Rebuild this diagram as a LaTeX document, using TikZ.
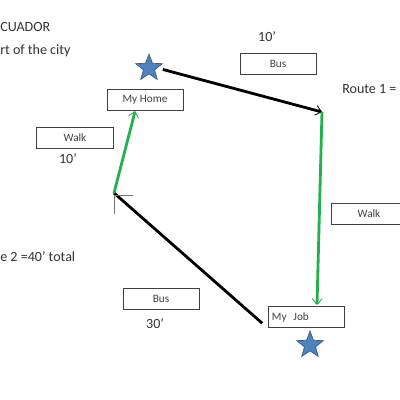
\documentclass[tikz,border=0pt]{standalone}
\usepackage{fontspec}
\setmainfont{Carlito}
\usetikzlibrary{shapes.geometric, arrows.meta}
\definecolor{starblue}{RGB}{79,129,189}
\definecolor{starline}{RGB}{56,93,138}
\definecolor{walkgreen}{RGB}{34,177,76}

\begin{document}
\begin{tikzpicture}[
  x=0.025cm, y=-0.025cm,
  box/.style={rectangle, draw=black!75, line width=0.7pt, minimum width=1.9cm,
              minimum height=0.52cm, font=\fontsize{8}{9}\selectfont,
              text=black!75, inner sep=1pt},
  note/.style={font=\fontsize{10}{12}\selectfont, text=black!80, inner sep=0pt},
  spot/.style={star, star points=5, star point ratio=2.4, fill=starblue,
               draw=starline, line width=0.5pt, minimum size=0.7cm, inner sep=0pt},
  bus/.style={line width=2pt, black},
  walk/.style={line width=2pt, walkgreen},
  tip/.style={-{Straight Barb[length=4pt, width=7pt, line width=0.6pt]}}
]
\clip (0,0) rectangle (400,400);
\fill[white] (0,0) rectangle (400,400);

% texts cut at the edges
\node[note, anchor=west] (country) at (0,27)  {CUADOR};
\node[note, anchor=west] (city)    at (0,51)  {rt of the city};
\node[note, anchor=west] (route1)  at (342,89) {Route 1 =};
\node[note, anchor=west] (route2)  at (0,257) {e 2 =40' total};

% places
\node[spot] (homestar) at (149,68)  {};
\node[spot] (jobstar)  at (310,345) {};
\node[box]  (home)     at (145,100) {My Home};
\node[box, align=left, text width=1.7cm] (job) at (306,317) {My\hspace{0.6em}Job};

% legs
\node[box]  (bus1)  at (278,64)  {Bus};
\node[note] (time1) at (267,37)  {10'};
\node[box]  (walk1) at (369,214) {Walk};
\node[box]  (bus2)  at (161,299) {Bus};
\node[note] (time2) at (155,324) {30'};
\node[box]  (walk2) at (75,138)  {Walk};
\node[note] (time3) at (68,159)  {10'};

\coordinate (turn1) at (322,112);
\coordinate (jobin) at (317,305);
\coordinate (turn2) at (114,193);

\draw[bus, tip, shorten <=4pt] (homestar.east) -- (turn1);
\draw[walk, tip] (turn1) -- (jobin);
\draw[bus, shorten <=5pt] (job.south west) -- (turn2);
\draw[black!55, line width=0.7pt] (turn2) ++(19,2) -- ++(-19,0) -- ++(0,19);
\draw[walk, tip] (turn2) -- ([xshift=-7pt]home.south);
\end{tikzpicture}
\end{document}
